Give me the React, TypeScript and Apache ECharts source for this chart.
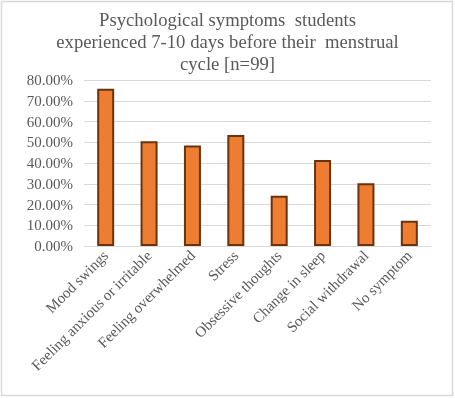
import React, { useEffect, useRef } from "react";
import * as echarts from "echarts";

const titleText = "Psychological symptoms  students\nexperienced 7-10 days before their  menstrual\ncycle [n=99]";
const categories = [
  "Mood swings",
  "Feeling anxious or irritable",
  "Feeling overwhelmed",
  "Stress",
  "Obsessive thoughts",
  "Change in sleep",
  "Social withdrawal",
  "No symptom",
];
const values = [75.76, 50.51, 48.48, 53.54, 24.24, 41.41, 30.3, 12.12];

export default function App() {
  const ref = useRef<HTMLDivElement>(null);
  useEffect(() => {
    const chart = echarts.init(ref.current!, undefined, { renderer: "svg" });
    chart.setOption({
      animation: false,
      textStyle: { fontFamily: "Times New Roman" },
      graphic: [
        {
          type: "rect",
          shape: { x: 1.5, y: 1.5, width: 451, height: 394 },
          style: { fill: "none", stroke: "#d9d9d9", lineWidth: 1.5 },
          silent: true,
        },
      ],
      title: {
        text: titleText,
        left: "center",
        top: 3,
        textStyle: {
          fontFamily: "Times New Roman",
          fontSize: 18.7,
          fontWeight: "normal",
          color: "#595959",
          lineHeight: 22,
        },
      },
      grid: { left: 84, right: 24, top: 80, bottom: 152, containLabel: false },
      xAxis: {
        type: "category",
        data: categories,
        axisLine: { lineStyle: { color: "#d9d9d9", width: 1 } },
        axisTick: { show: false },
        axisLabel: {
          rotate: 45,
          interval: 0,
          margin: 7,
          fontFamily: "Times New Roman",
          fontSize: 15,
          color: "#595959",
        },
      },
      yAxis: {
        type: "value",
        min: 0,
        max: 80,
        interval: 10,
        axisLine: { show: false },
        axisTick: { show: false },
        splitLine: { lineStyle: { color: "#d9d9d9", width: 1 } },
        axisLabel: {
          formatter: (v: number) => v.toFixed(2) + "%",
          fontFamily: "Times New Roman",
          fontSize: 15,
          color: "#595959",
          margin: 11,
        },
      },
      series: [
        {
          type: "bar",
          data: values,
          barWidth: 17,
          itemStyle: { color: "#ED7D31", borderColor: "#6B320E", borderWidth: 2 },
        },
      ],
    });
    return () => chart.dispose();
  }, []);
  return (
    <div
      ref={ref}
      style={{ position: "fixed", left: 0, top: 0, width: 455, height: 398 }}
    />
  );
}
